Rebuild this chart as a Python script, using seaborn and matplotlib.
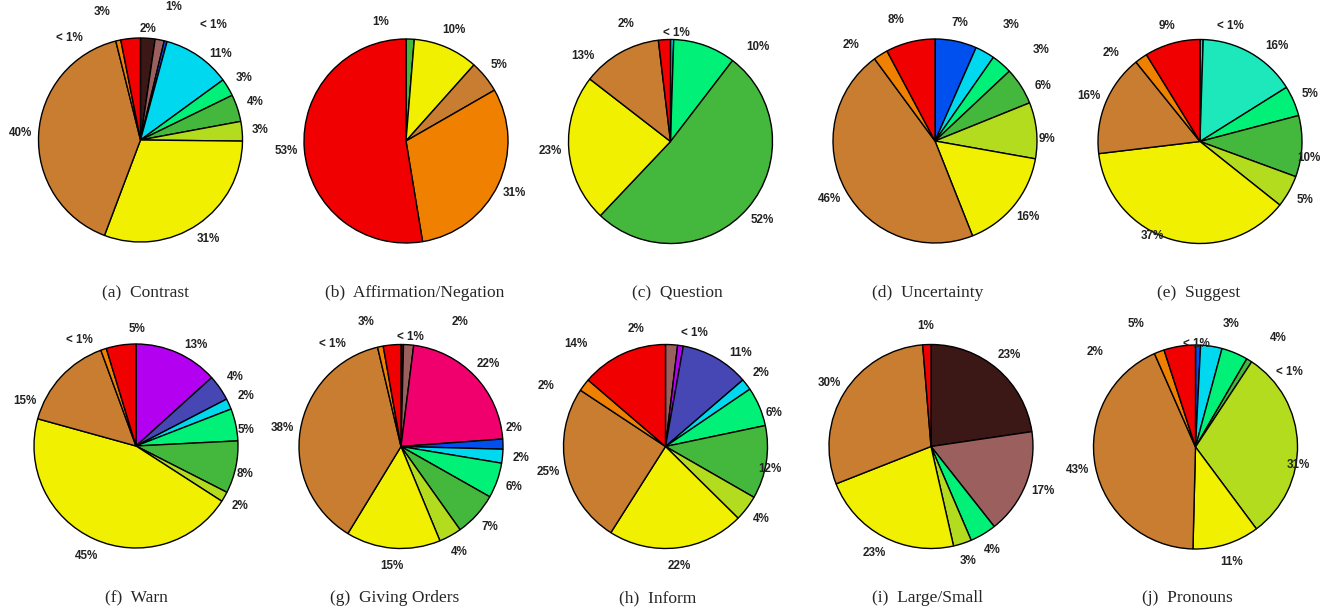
import numpy as np
import matplotlib
matplotlib.use("Agg")
import matplotlib.pyplot as plt
import seaborn as sns

# category colours, in the order the slices run clockwise from 12 o'clock
CATEGORY_COLORS = ["#3b1716", "#9b5f5d", "#f0006c", "#b400f0", "#4646b4",
                   "#0050f0", "#00d8f0", "#1ce8bc", "#00f078", "#44b83c",
                   "#b4dc1e", "#f0f000", "#c87d30", "#f08000", "#f00000"]

# share of each category (percent), 0 = category absent
CONTRAST = [2.3, 1.45, 0, 0, 0, 0.45, 10.8, 0, 2.8, 4.3, 3.1, 30.6, 40.4, 0.8, 3.1]
AFFIRMATION = [0, 0, 0, 0, 0, 0, 0, 0, 0, 1.3, 0, 10.3, 5.1, 30.7, 52.6]
QUESTION = [0, 0, 0, 0, 0, 0, 0.5, 0, 9.9, 51.6, 0, 23.4, 12.6, 0, 1.9]
UNCERTAINTY = [0, 0, 0, 0, 0, 6.6, 3.1, 0, 3.3, 5.9, 8.9, 16.2, 45.9, 2.3, 7.8]
SUGGEST = [0, 0, 0, 0, 0, 0, 0.5, 15.6, 4.8, 9.7, 5.1, 37.4, 16.1, 2.0, 8.8]
WARN = [0, 0, 0, 13.3, 4.1, 0, 1.7, 0, 5.1, 8.3, 1.6, 45.2, 15.1, 0.9, 4.7]
GIVING_ORDERS = [0.4, 1.6, 21.9, 0, 0, 1.6, 2.2, 0, 5.6, 7.0, 3.6, 15.0, 37.7, 0.9, 2.8]
INFORM = [0, 1.9, 0, 0.9, 10.9, 0, 1.8, 0, 6.2, 11.6, 4.1, 21.6, 25.3, 2.0, 13.7]
LARGE_SMALL = [22.7, 16.7, 0, 0, 0, 0, 0, 0, 4.2, 0, 2.9, 22.6, 29.7, 0, 1.3]
PRONOUNS = [0, 0, 0, 0, 0, 0.8, 3.4, 0, 4.2, 0.9, 30.6, 10.6, 43.1, 1.6, 5.0]

CAPTIONS = ["(a)  Contrast", "(b)  Affirmation/Negation", "(c)  Question",
            "(d)  Uncertainty", "(e)  Suggest", "(f)  Warn", "(g)  Giving Orders",
            "(h)  Inform", "(i)  Large/Small", "(j)  Pronouns"]
PIES = [CONTRAST, AFFIRMATION, QUESTION, UNCERTAINTY, SUGGEST,
        WARN, GIVING_ORDERS, INFORM, LARGE_SMALL, PRONOUNS]

# layout (pixels, origin top-left)
W, H, R = 1335, 614, 102
PIE_CENTERS = [(140.5, 140), (406, 141), (670.5, 141.5), (935, 141), (1200, 141.5),
               (136, 446), (401, 446.5), (665.5, 446.5), (931, 446.5), (1195.5, 447)]
CAPTION_X = [146, 415, 677, 928, 1199, 136, 395, 658, 927, 1187]
CAPTION_Y = [293, 293, 293, 293, 293, 598, 598, 598, 598, 598]

# hand-moved percentage labels: category index -> (angle clockwise from top, distance)
LABEL_MOVES = [
    {0: (4, 1.09), 1: (13.9, 1.34), 5: (32.4, 1.34), 6: (42.9, 1.15), 13: (325.2, 1.22), 14: (343.3, 1.31)},
    {9: (348.1, 1.19)},
    {6: (3.1, 1.07), 8: (42.6, 1.26), 12: (314, 1.2), 14: (339, 1.23)},
    {6: (33.4, 1.36), 8: (49.6, 1.37), 9: (63, 1.19), 10: (89, 1.1), 13: (318.7, 1.25), 14: (342, 1.25)},
    {6: (14.8, 1.17), 7: (39, 1.2), 9: (98.7, 1.08), 11: (206.7, 1.04), 13: (315, 1.23)},
    {3: (30.7, 1.15), 8: (81.7, 1.09), 9: (104.6, 1.1), 12: (292, 1.18), 13: (332, 1.18), 14: (0.6, 1.15)},
    {0: (4.8, 1.08), 1: (25.6, 1.35), 5: (80.7, 1.12), 13: (326, 1.21), 14: (344.4, 1.27)},
    {1: (345.7, 1.19), 3: (14, 1.15), 4: (38.8, 1.17), 8: (72.9, 1.11), 9: (102, 1.05), 13: (296.7, 1.31), 14: (318.9, 1.33)},
    {},
    {5: (0.3, 1.01), 6: (16.1, 1.26), 8: (37, 1.34), 9: (51.4, 1.18), 10: (99.8, 1.02), 13: (313.5, 1.36), 14: (334.3, 1.34)},
]

sns.set_style("white")
palette = sns.color_palette(CATEGORY_COLORS)

fig = plt.figure(figsize=(W / 100, H / 100), dpi=100)
LIM = 1.45


def pct_label(v):
    return "< 1%" if v < 1 else f"{v:.0f}%"


for vals, (cx, cy), moves in zip(PIES, PIE_CENTERS, LABEL_MOVES):
    idx = [i for i, v in enumerate(vals) if v > 0]
    sizes = [vals[i] for i in idx]
    half = LIM * R
    ax = fig.add_axes([(cx - half) / W, (H - cy - half) / H, 2 * half / W, 2 * half / H])
    ax.pie(sizes, colors=[palette[i] for i in idx], startangle=90, counterclock=False,
           wedgeprops=dict(edgecolor="black", linewidth=1.0))
    ax.set_xlim(-LIM, LIM)
    ax.set_ylim(-LIM, LIM)
    ax.set_aspect("equal")
    ax.axis("off")

    total = sum(sizes)
    cum = 0
    for i, v in zip(idx, sizes):
        ang = (cum + v / 2) / total * 360
        dist = 1.18
        if i in moves:
            ang, dist = moves[i]
        cum += v
        t = np.radians(ang)
        ax.text(dist * np.sin(t), dist * np.cos(t), pct_label(v), ha="center", va="center",
                fontsize=8.4, fontweight="bold", family=["Liberation Sans", "DejaVu Sans"],
                color="#222222", clip_on=False)

for cap, x, y in zip(CAPTIONS, CAPTION_X, CAPTION_Y):
    fig.text(x / W, 1 - y / H, cap, ha="center", va="center", fontsize=12.5,
             family=["Liberation Serif", "DejaVu Serif"])

fig.savefig("out.png", dpi=100)
